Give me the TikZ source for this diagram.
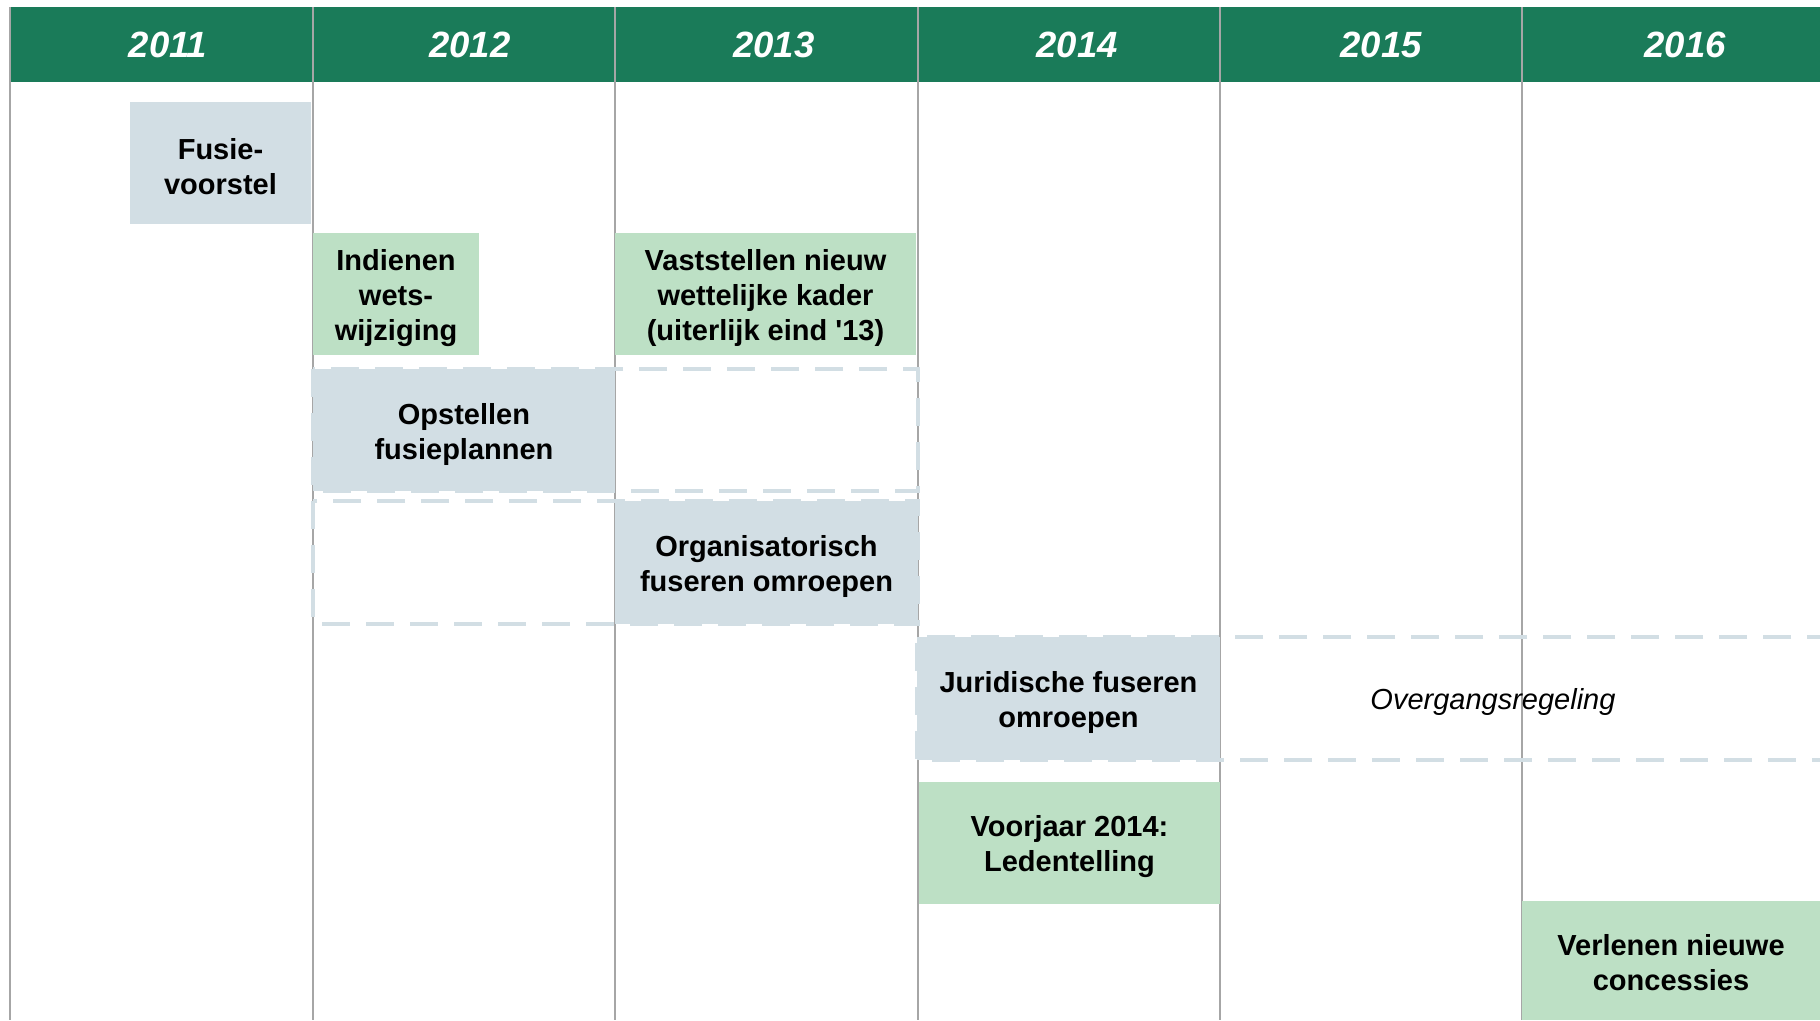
\documentclass[tikz,border=0pt]{standalone}
\usepackage{fontspec}
\setmainfont{Liberation Sans}
\definecolor{hdr}{RGB}{26,123,89}
\definecolor{bluegray}{RGB}{210,222,228}
\definecolor{lgreen}{RGB}{189,224,197}
\definecolor{vline}{RGB}{166,166,166}
\tikzset{
  yearlbl/.style={text=white,font=\bfseries\itshape\fontsize{36.5}{40}\selectfont},
  taskbox/.style={rectangle,inner sep=0pt},
  bluebox/.style={taskbox,fill=bluegray},
  greenbox/.style={taskbox,fill=lgreen},
  tasktext/.style={inner sep=0pt,align=center,yshift=-4pt,font=\bfseries\fontsize{29}{35}\selectfont},
  dashbox/.style={draw=bluegray,line width=4pt,dash pattern=on 28pt off 16pt},
  gridline/.style={draw=vline,line width=1.6pt},
}
\begin{document}
\begin{tikzpicture}[x=1pt,y=-1pt]
\useasboundingbox (0,0) rectangle (1820,1020);
\fill[white] (0,0) rectangle (1820,1020);
% header
\fill[hdr] (10,7) rectangle (1820,82);
\foreach \x/\yr [count=\i] in {168/2011,470/2012,774/2013,1077/2014,1381/2015,1685/2016}
  \node[yearlbl] (y\i) at (\x,45) {\yr};
% grid lines
\foreach \x [count=\i] in {10,313,615,918,1220,1522}
  \draw[gridline] (\x,7) -- (\x,1020);
% dashed frames
\draw[dashbox] (313,369) rectangle (918,491);
\draw[dashbox] (313,501) rectangle (918,624);
\draw[dashbox] (1835,637) -- (917,637) -- (917,760) -- (1835,760);
% boxes
\node[bluebox,minimum width=181pt,minimum height=122pt] (fusie) at (220.5,163) {};
\node[tasktext] (fusie-t) at (fusie.center) {Fusie-\\voorstel};
\node[greenbox,minimum width=166pt,minimum height=122pt] (indienen) at (396,294) {};
\node[tasktext] (indienen-t) at (indienen.center) {Indienen\\wets-\\wijziging};
\node[greenbox,minimum width=301pt,minimum height=122pt] (vaststellen) at (765.5,294) {};
\node[tasktext] (vaststellen-t) at (vaststellen.center) {Vaststellen nieuw\\wettelijke kader\\(uiterlijk eind \textquotesingle13)};
\node[bluebox,minimum width=302pt,minimum height=122pt] (opstellen) at (464,430) {};
\node[tasktext] (opstellen-t) at (opstellen.center) {Opstellen\\fusieplannen};
\node[bluebox,minimum width=303pt,minimum height=123pt] (organisatorisch) at (766.5,562.5) {};
\node[tasktext] (organisatorisch-t) at (organisatorisch.center) {Organisatorisch\\fuseren omroepen};
\node[bluebox,minimum width=303pt,minimum height=123pt] (juridisch) at (1068.5,698.5) {};
\node[tasktext] (juridisch-t) at (juridisch.center) {Juridische fuseren\\omroepen};
\node[greenbox,minimum width=301pt,minimum height=122pt] (voorjaar) at (1069.5,843) {};
\node[tasktext] (voorjaar-t) at (voorjaar.center) {Voorjaar 2014:\\Ledentelling};
\node[greenbox,minimum width=298pt,minimum height=119pt] (verlenen) at (1671,960.5) {};
\node[tasktext,yshift=2pt] (verlenen-t) at (verlenen.center) {Verlenen nieuwe\\concessies};
\node[font=\itshape\fontsize{29}{35}\selectfont] (overgang) at (1493,702) {Overgangsregeling};
\end{tikzpicture}
\end{document}
